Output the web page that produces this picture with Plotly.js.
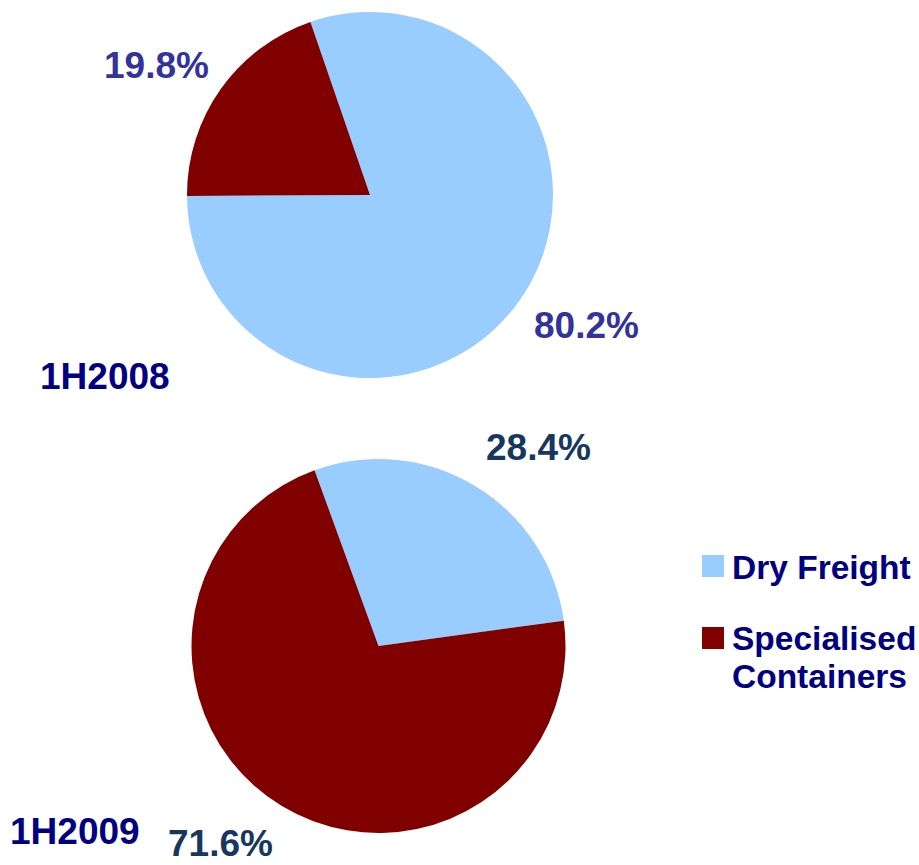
<!DOCTYPE html>
<html>
<head>
<meta charset="utf-8">
<script src="https://cdn.plot.ly/plotly-3.0.1.min.js"></script>
<style>html,body{margin:0;padding:0;background:#fff;}#chart{width:919px;height:865px;}</style>
</head>
<body>
<div id="chart"></div>
<script>
// ---- data ----
var categories = ["Dry Freight", "Specialised<br>Containers"];
var colors = ["#99CCFF", "#800000"];
var periods = ["1H2008", "1H2009"];
var values2008 = [80.2, 19.8];
var values2009 = [28.4, 71.6];
var labels2008 = ["80.2%", "19.8%"];
var labels2009 = ["28.4%", "71.6%"];

var W = 919, H = 865;
function px(x){ return x / W; }
function py(y){ return 1 - y / H; }

var font = "Liberation Sans, Arial, Helvetica, sans-serif";

var traces = [
  {
    type: "pie", values: values2008, labels: categories, sort: false,
    direction: "clockwise", rotation: -19,
    marker: {colors: colors, line: {width: 0}},
    textinfo: "none", hoverinfo: "label+percent", showlegend: false,
    domain: {x: [px(187), px(553)], y: [py(378), py(12)]}
  },
  {
    type: "pie", values: values2009, labels: categories, sort: false,
    direction: "clockwise", rotation: -20,
    marker: {colors: colors, line: {width: 0}},
    textinfo: "none", hoverinfo: "label+percent", showlegend: false,
    domain: {x: [px(191), px(566)], y: [py(833), py(459)]}
  }
];

function ann(text, x, y, color, size, xanchor){
  return {text: "<b>" + text + "</b>", x: px(x), y: py(y), xref: "paper", yref: "paper",
    xanchor: xanchor || "center", yanchor: "middle", showarrow: false, align: "left",
    borderpad: 0,
    font: {family: font, size: size, color: color}};
}

var legendLines2 = categories[1].split("<br>");

var annotations = [
  ann(labels2008[1], 156.5, 66, "#333399", 37),
  ann(labels2008[0], 586, 325.5, "#333399", 37),
  ann(labels2009[0], 538.5, 447.5, "#17375E", 37),
  ann(labels2009[1], 220, 843, "#17375E", 37),
  ann(periods[0], 105, 376.5, "#000080", 37),
  ann(periods[1], 75, 831.5, "#000080", 37),
  ann(categories[0], 731, 567, "#000080", 33.5, "left"),
  ann(legendLines2[0], 731, 638, "#000080", 33.5, "left"),
  ann(legendLines2[1], 731, 676, "#000080", 33.5, "left")
];

var shapes = [
  {type: "rect", xref: "paper", yref: "paper", x0: px(702), x1: px(724), y0: py(577), y1: py(555),
   fillcolor: colors[0], line: {width: 0}},
  {type: "rect", xref: "paper", yref: "paper", x0: px(702), x1: px(724), y0: py(649), y1: py(627),
   fillcolor: colors[1], line: {width: 0}}
];

var layout = {
  width: W, height: H,
  margin: {l: 0, r: 0, t: 0, b: 0},
  paper_bgcolor: "#ffffff", plot_bgcolor: "#ffffff",
  showlegend: false,
  annotations: annotations,
  shapes: shapes
};

Plotly.newPlot("chart", traces, layout, {displayModeBar: false, staticPlot: true});
</script>
</body>
</html>
